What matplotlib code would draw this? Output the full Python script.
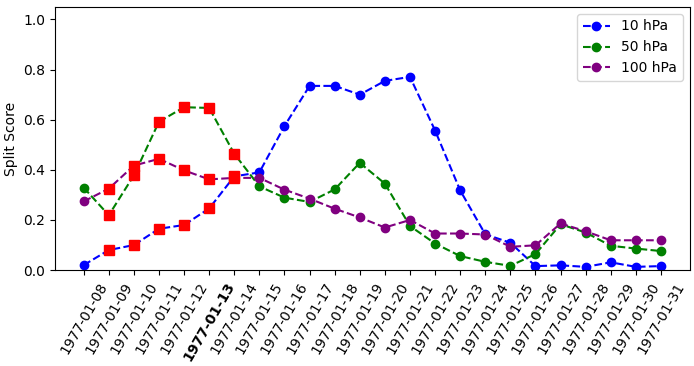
import numpy as np
import pandas as pd
from matplotlib import pyplot as plt

dates = pd.date_range('1977-01-08', '1977-01-31').strftime('%Y-%m-%d').tolist()
p10 = [0.02, 0.08, 0.10, 0.165, 0.18, 0.246, 0.374, 0.39, 0.575, 0.735, 0.735, 0.70,
       0.755, 0.771, 0.557, 0.318, 0.143, 0.109, 0.016, 0.019, 0.013, 0.031, 0.013, 0.016]
p50 = [0.329, 0.219, 0.378, 0.592, 0.65, 0.647, 0.464, 0.334, 0.289, 0.272, 0.322, 0.428,
       0.345, 0.176, 0.106, 0.056, 0.033, 0.017, 0.064, 0.183, 0.15, 0.097, 0.086, 0.076]
p100 = [0.274, 0.325, 0.417, 0.444, 0.398, 0.362, 0.368, 0.368, 0.321, 0.285, 0.245, 0.21,
        0.17, 0.2, 0.146, 0.146, 0.142, 0.093, 0.099, 0.186, 0.155, 0.119, 0.119, 0.119]
# days flagged with red squares
flagged = ['1977-01-09', '1977-01-10', '1977-01-11', '1977-01-12', '1977-01-13', '1977-01-14']
central = '1977-01-13'

x = np.arange(len(dates))
f, ax = plt.subplots(figsize=(6.94, 3.66), dpi=100)
ax.plot(x, p10, 'o--', color='blue', label='10 hPa')
ax.plot(x, p50, 'o--', color='green', label='50 hPa')
ax.plot(x, p100, 'o--', color='purple', label='100 hPa')

idx = [dates.index(d) for d in flagged]
for s in (p10, p50, p100):
    ax.plot(x[idx], np.array(s)[idx], 's', color='red', markersize=7, zorder=3)

ax.set_ylim(0, 1.05)
ax.set_ylabel('Split Score')
ax.set_xticks(x)
ax.set_xticklabels(dates, rotation=60)
for lab in ax.get_xticklabels():
    if lab.get_text() == central:
        lab.set_fontweight('bold')
ax.legend(loc='upper right')
f.subplots_adjust(left=0.079, right=0.994, bottom=0.262, top=0.981)
plt.savefig('out.png')
